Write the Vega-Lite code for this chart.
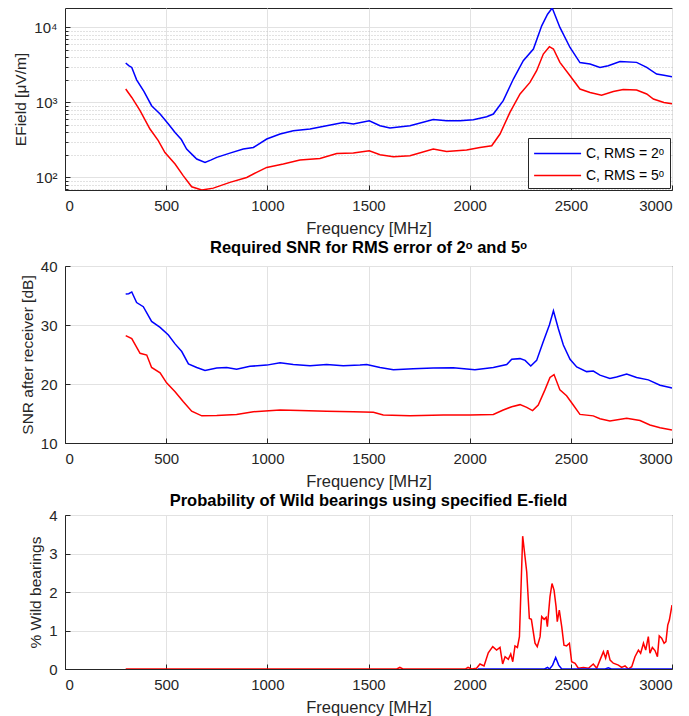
{
  "$schema": "https://vega.github.io/schema/vega-lite/v6.json",
  "padding": {"left": 13, "top": 7, "right": 15, "bottom": 0},
  "spacing": 2,
  "resolve": {"scale": {"color": "independent"}, "legend": {"color": "independent"}},
  "config": {
    "font": "Liberation Sans",
    "view": {"stroke": "#262626", "strokeWidth": 1},
    "axis": {
      "domainColor": "#262626", "tickColor": "#262626", "labelColor": "#262626", "titleColor": "#262626",
      "labelFontSize": 15, "titleFontSize": 16.5, "titleFontWeight": "normal",
      "gridColor": "#e2e2e2", "gridOpacity": 1, "tickSize": -5, "labelPadding": 13, "titlePadding": 7
    },
    "axisY": {"titleFontSize": 15.5, "labelPadding": 13, "titlePadding": 5},
    "title": {"fontSize": 16.5, "fontWeight": "bold", "color": "#000000", "offset": 6},
    "legend": {"labelFontSize": 14, "labelColor": "#000000"}
  },
  "vconcat": [
    {
      "width": 607, "height": 182,
      "data": {"values": [
        {"f":300,"v":3350,"s":"C, RMS = 2ᵒ"},{"f":315,"v":3100,"s":"C, RMS = 2ᵒ"},{"f":330,"v":2930,"s":"C, RMS = 2ᵒ"},{"f":354,"v":2000,"s":"C, RMS = 2ᵒ"},{"f":390,"v":1400,"s":"C, RMS = 2ᵒ"},{"f":428,"v":905,"s":"C, RMS = 2ᵒ"},{"f":470,"v":700,"s":"C, RMS = 2ᵒ"},{"f":511,"v":515,"s":"C, RMS = 2ᵒ"},{"f":544,"v":398,"s":"C, RMS = 2ᵒ"},{"f":575,"v":320,"s":"C, RMS = 2ᵒ"},{"f":601,"v":239,"s":"C, RMS = 2ᵒ"},{"f":630,"v":200,"s":"C, RMS = 2ᵒ"},{"f":651,"v":176,"s":"C, RMS = 2ᵒ"},{"f":692,"v":158,"s":"C, RMS = 2ᵒ"},{"f":720,"v":170,"s":"C, RMS = 2ᵒ"},{"f":750,"v":185,"s":"C, RMS = 2ᵒ"},{"f":815,"v":211,"s":"C, RMS = 2ᵒ"},{"f":881,"v":239,"s":"C, RMS = 2ᵒ"},{"f":931,"v":251,"s":"C, RMS = 2ᵒ"},{"f":997,"v":325,"s":"C, RMS = 2ᵒ"},{"f":1063,"v":379,"s":"C, RMS = 2ᵒ"},{"f":1128,"v":420,"s":"C, RMS = 2ᵒ"},{"f":1211,"v":442,"s":"C, RMS = 2ᵒ"},{"f":1293,"v":490,"s":"C, RMS = 2ᵒ"},{"f":1375,"v":541,"s":"C, RMS = 2ᵒ"},{"f":1425,"v":515,"s":"C, RMS = 2ᵒ"},{"f":1504,"v":570,"s":"C, RMS = 2ᵒ"},{"f":1557,"v":490,"s":"C, RMS = 2ᵒ"},{"f":1606,"v":456,"s":"C, RMS = 2ᵒ"},{"f":1705,"v":490,"s":"C, RMS = 2ᵒ"},{"f":1820,"v":593,"s":"C, RMS = 2ᵒ"},{"f":1886,"v":570,"s":"C, RMS = 2ᵒ"},{"f":1952,"v":570,"s":"C, RMS = 2ᵒ"},{"f":2018,"v":589,"s":"C, RMS = 2ᵒ"},{"f":2084,"v":646,"s":"C, RMS = 2ᵒ"},{"f":2117,"v":700,"s":"C, RMS = 2ᵒ"},{"f":2166,"v":1055,"s":"C, RMS = 2ᵒ"},{"f":2216,"v":2050,"s":"C, RMS = 2ᵒ"},{"f":2265,"v":3600,"s":"C, RMS = 2ᵒ"},{"f":2315,"v":5150,"s":"C, RMS = 2ᵒ"},{"f":2356,"v":10500,"s":"C, RMS = 2ᵒ"},{"f":2385,"v":15000,"s":"C, RMS = 2ᵒ"},{"f":2408,"v":18150,"s":"C, RMS = 2ᵒ"},{"f":2446,"v":10000,"s":"C, RMS = 2ᵒ"},{"f":2496,"v":5400,"s":"C, RMS = 2ᵒ"},{"f":2545,"v":3400,"s":"C, RMS = 2ᵒ"},{"f":2595,"v":3250,"s":"C, RMS = 2ᵒ"},{"f":2644,"v":2930,"s":"C, RMS = 2ᵒ"},{"f":2685,"v":3080,"s":"C, RMS = 2ᵒ"},{"f":2743,"v":3520,"s":"C, RMS = 2ᵒ"},{"f":2825,"v":3420,"s":"C, RMS = 2ᵒ"},{"f":2875,"v":2930,"s":"C, RMS = 2ᵒ"},{"f":2924,"v":2390,"s":"C, RMS = 2ᵒ"},{"f":2960,"v":2300,"s":"C, RMS = 2ᵒ"},{"f":3000,"v":2200,"s":"C, RMS = 2ᵒ"},
        {"f":300,"v":1510,"s":"C, RMS = 5ᵒ"},{"f":330,"v":1165,"s":"C, RMS = 5ᵒ"},{"f":371,"v":776,"s":"C, RMS = 5ᵒ"},{"f":420,"v":442,"s":"C, RMS = 5ᵒ"},{"f":461,"v":309,"s":"C, RMS = 5ᵒ"},{"f":494,"v":215,"s":"C, RMS = 5ᵒ"},{"f":544,"v":151,"s":"C, RMS = 5ᵒ"},{"f":585,"v":105,"s":"C, RMS = 5ᵒ"},{"f":626,"v":75,"s":"C, RMS = 5ᵒ"},{"f":676,"v":68,"s":"C, RMS = 5ᵒ"},{"f":733,"v":72,"s":"C, RMS = 5ᵒ"},{"f":815,"v":86,"s":"C, RMS = 5ᵒ"},{"f":898,"v":100,"s":"C, RMS = 5ᵒ"},{"f":947,"v":117,"s":"C, RMS = 5ᵒ"},{"f":997,"v":136,"s":"C, RMS = 5ᵒ"},{"f":1079,"v":151,"s":"C, RMS = 5ᵒ"},{"f":1161,"v":171,"s":"C, RMS = 5ᵒ"},{"f":1260,"v":179,"s":"C, RMS = 5ᵒ"},{"f":1343,"v":209,"s":"C, RMS = 5ᵒ"},{"f":1425,"v":211,"s":"C, RMS = 5ᵒ"},{"f":1504,"v":227,"s":"C, RMS = 5ᵒ"},{"f":1557,"v":201,"s":"C, RMS = 5ᵒ"},{"f":1623,"v":189,"s":"C, RMS = 5ᵒ"},{"f":1705,"v":195,"s":"C, RMS = 5ᵒ"},{"f":1820,"v":239,"s":"C, RMS = 5ᵒ"},{"f":1886,"v":222,"s":"C, RMS = 5ᵒ"},{"f":1985,"v":232,"s":"C, RMS = 5ᵒ"},{"f":2051,"v":251,"s":"C, RMS = 5ᵒ"},{"f":2109,"v":265,"s":"C, RMS = 5ᵒ"},{"f":2150,"v":379,"s":"C, RMS = 5ᵒ"},{"f":2199,"v":736,"s":"C, RMS = 5ᵒ"},{"f":2249,"v":1295,"s":"C, RMS = 5ᵒ"},{"f":2298,"v":1850,"s":"C, RMS = 5ᵒ"},{"f":2331,"v":2650,"s":"C, RMS = 5ᵒ"},{"f":2364,"v":4420,"s":"C, RMS = 5ᵒ"},{"f":2394,"v":5530,"s":"C, RMS = 5ᵒ"},{"f":2414,"v":5150,"s":"C, RMS = 5ᵒ"},{"f":2446,"v":3420,"s":"C, RMS = 5ᵒ"},{"f":2496,"v":2270,"s":"C, RMS = 5ᵒ"},{"f":2545,"v":1510,"s":"C, RMS = 5ᵒ"},{"f":2595,"v":1360,"s":"C, RMS = 5ᵒ"},{"f":2652,"v":1250,"s":"C, RMS = 5ᵒ"},{"f":2710,"v":1400,"s":"C, RMS = 5ᵒ"},{"f":2759,"v":1490,"s":"C, RMS = 5ᵒ"},{"f":2825,"v":1460,"s":"C, RMS = 5ᵒ"},{"f":2875,"v":1295,"s":"C, RMS = 5ᵒ"},{"f":2908,"v":1110,"s":"C, RMS = 5ᵒ"},{"f":2960,"v":1000,"s":"C, RMS = 5ᵒ"},{"f":3000,"v":960,"s":"C, RMS = 5ᵒ"}
      ]},
      "mark": {"type": "line", "strokeWidth": 1.5, "clip": true},
      "encoding": {
        "x": {"field": "f", "type": "quantitative", "scale": {"domain": [0, 3000], "nice": false},
              "axis": {"values": [0, 500, 1000, 1500, 2000, 2500, 3000], "format": "d", "title": "Frequency [MHz]"}},
        "y": {"field": "v", "type": "quantitative", "scale": {"type": "log", "domain": [68, 18150], "nice": false},
              "axis": {"title": "EField [μV/m]",
                       "values": [70, 80, 90, 100, 200, 300, 400, 500, 600, 700, 800, 900, 1000, 2000, 3000, 4000, 5000, 6000, 7000, 8000, 9000, 10000],
                       "labelExpr": "datum.value == 100 ? '10²' : datum.value == 1000 ? '10³' : datum.value == 10000 ? '10⁴' : ''",
                       "gridDash": {"condition": {"test": "datum.value == 100 || datum.value == 1000 || datum.value == 10000", "value": []}, "value": [1, 2]},
                       "gridColor": {"condition": {"test": "datum.value == 100 || datum.value == 1000 || datum.value == 10000", "value": "#e2e2e2"}, "value": "#c4c4c4"},
                       "tickSize": {"condition": {"test": "datum.value == 100 || datum.value == 1000 || datum.value == 10000", "value": -5}, "value": -3}}},
        "color": {"field": "s", "type": "nominal", "scale": {"domain": ["C, RMS = 2ᵒ", "C, RMS = 5ᵒ"], "range": ["#0000ff", "#ff0000"]},
                  "legend": {"orient": "bottom-right", "title": null, "offset": 2, "padding": 5, "strokeColor": "#262626", "fillColor": "#ffffff",
                             "symbolType": "M-1,0H4", "symbolStrokeWidth": 1.5, "symbolSize": 353, "labelOffset": 32, "rowPadding": 4}}
      }
    },
    {
      "width": 607, "height": 177,
      "title": {"text": "Required SNR for RMS error of 2ᵒ and 5ᵒ", "offset": 3},
      "data": {"values": [
        {"f":300,"v":35.25,"s":"b"},{"f":315,"v":35.3,"s":"b"},{"f":330,"v":35.6,"s":"b"},{"f":354,"v":33.8,"s":"b"},{"f":387,"v":33.1,"s":"b"},{"f":428,"v":30.6,"s":"b"},{"f":470,"v":29.6,"s":"b"},{"f":511,"v":28.3,"s":"b"},{"f":544,"v":26.8,"s":"b"},{"f":577,"v":25.5,"s":"b"},{"f":610,"v":23.4,"s":"b"},{"f":651,"v":22.8,"s":"b"},{"f":692,"v":22.3,"s":"b"},{"f":750,"v":22.7,"s":"b"},{"f":799,"v":22.8,"s":"b"},{"f":848,"v":22.5,"s":"b"},{"f":914,"v":23.0,"s":"b"},{"f":997,"v":23.2,"s":"b"},{"f":1063,"v":23.6,"s":"b"},{"f":1128,"v":23.3,"s":"b"},{"f":1211,"v":23.1,"s":"b"},{"f":1293,"v":23.3,"s":"b"},{"f":1375,"v":23.1,"s":"b"},{"f":1458,"v":23.2,"s":"b"},{"f":1491,"v":23.3,"s":"b"},{"f":1557,"v":22.8,"s":"b"},{"f":1623,"v":22.4,"s":"b"},{"f":1721,"v":22.6,"s":"b"},{"f":1820,"v":22.7,"s":"b"},{"f":1919,"v":22.75,"s":"b"},{"f":2026,"v":22.4,"s":"b"},{"f":2117,"v":22.8,"s":"b"},{"f":2183,"v":23.3,"s":"b"},{"f":2208,"v":24.2,"s":"b"},{"f":2249,"v":24.3,"s":"b"},{"f":2274,"v":24.0,"s":"b"},{"f":2302,"v":23.05,"s":"b"},{"f":2331,"v":24.0,"s":"b"},{"f":2364,"v":27.2,"s":"b"},{"f":2394,"v":30.0,"s":"b"},{"f":2414,"v":32.4,"s":"b"},{"f":2438,"v":29.4,"s":"b"},{"f":2463,"v":26.6,"s":"b"},{"f":2496,"v":24.2,"s":"b"},{"f":2529,"v":22.9,"s":"b"},{"f":2578,"v":22.1,"s":"b"},{"f":2611,"v":22.2,"s":"b"},{"f":2644,"v":21.5,"s":"b"},{"f":2693,"v":20.95,"s":"b"},{"f":2726,"v":21.2,"s":"b"},{"f":2776,"v":21.7,"s":"b"},{"f":2825,"v":21.1,"s":"b"},{"f":2883,"v":20.7,"s":"b"},{"f":2941,"v":19.8,"s":"b"},{"f":2990,"v":19.4,"s":"b"},{"f":3000,"v":19.3,"s":"b"},
        {"f":300,"v":28.2,"s":"r"},{"f":330,"v":27.7,"s":"r"},{"f":371,"v":25.2,"s":"r"},{"f":404,"v":24.9,"s":"r"},{"f":428,"v":22.8,"s":"r"},{"f":470,"v":21.9,"s":"r"},{"f":502,"v":20.2,"s":"r"},{"f":544,"v":18.7,"s":"r"},{"f":585,"v":17.0,"s":"r"},{"f":626,"v":15.4,"s":"r"},{"f":676,"v":14.6,"s":"r"},{"f":750,"v":14.65,"s":"r"},{"f":848,"v":14.85,"s":"r"},{"f":931,"v":15.3,"s":"r"},{"f":1063,"v":15.6,"s":"r"},{"f":1161,"v":15.5,"s":"r"},{"f":1293,"v":15.4,"s":"r"},{"f":1425,"v":15.3,"s":"r"},{"f":1524,"v":15.2,"s":"r"},{"f":1573,"v":14.75,"s":"r"},{"f":1705,"v":14.6,"s":"r"},{"f":1870,"v":14.75,"s":"r"},{"f":2002,"v":14.75,"s":"r"},{"f":2117,"v":14.85,"s":"r"},{"f":2166,"v":15.6,"s":"r"},{"f":2208,"v":16.15,"s":"r"},{"f":2249,"v":16.5,"s":"r"},{"f":2282,"v":16.05,"s":"r"},{"f":2311,"v":15.5,"s":"r"},{"f":2339,"v":16.45,"s":"r"},{"f":2372,"v":19.0,"s":"r"},{"f":2397,"v":21.1,"s":"r"},{"f":2417,"v":21.6,"s":"r"},{"f":2446,"v":19.0,"s":"r"},{"f":2479,"v":18.0,"s":"r"},{"f":2512,"v":16.45,"s":"r"},{"f":2545,"v":14.85,"s":"r"},{"f":2611,"v":14.6,"s":"r"},{"f":2644,"v":14.1,"s":"r"},{"f":2693,"v":13.75,"s":"r"},{"f":2776,"v":14.2,"s":"r"},{"f":2842,"v":13.8,"s":"r"},{"f":2891,"v":13.05,"s":"r"},{"f":2941,"v":12.6,"s":"r"},{"f":3000,"v":12.2,"s":"r"}
      ]},
      "mark": {"type": "line", "strokeWidth": 1.5, "clip": true},
      "encoding": {
        "x": {"field": "f", "type": "quantitative", "scale": {"domain": [0, 3000], "nice": false},
              "axis": {"values": [0, 500, 1000, 1500, 2000, 2500, 3000], "format": "d", "title": "Frequency [MHz]"}},
        "y": {"field": "v", "type": "quantitative", "scale": {"domain": [10, 40], "nice": false, "zero": false},
              "axis": {"values": [10, 20, 30, 40], "title": "SNR after receiver [dB]"}},
        "color": {"field": "s", "type": "nominal", "scale": {"domain": ["b", "r"], "range": ["#0000ff", "#ff0000"]}, "legend": null}
      }
    },
    {
      "width": 607, "height": 154,
      "title": {"text": "Probability of Wild bearings using specified E-field", "offset": -1},
      "data": {"values": [
        {"f":300,"v":0,"s":"r"},{"f":1640,"v":0,"s":"r"},{"f":1655,"v":0.04,"s":"r"},{"f":1670,"v":0,"s":"r"},{"f":1980,"v":0,"s":"r"},{"f":1992,"v":0.04,"s":"r"},{"f":2010,"v":0,"s":"r"},{"f":2034,"v":0.02,"s":"r"},{"f":2051,"v":0.13,"s":"r"},{"f":2071,"v":0.08,"s":"r"},{"f":2092,"v":0.42,"s":"r"},{"f":2114,"v":0.58,"s":"r"},{"f":2133,"v":0.49,"s":"r"},{"f":2150,"v":0.56,"s":"r"},{"f":2163,"v":0.13,"s":"r"},{"f":2175,"v":0.32,"s":"r"},{"f":2191,"v":0.25,"s":"r"},{"f":2203,"v":0.39,"s":"r"},{"f":2213,"v":0.19,"s":"r"},{"f":2224,"v":0.6,"s":"r"},{"f":2236,"v":0.56,"s":"r"},{"f":2246,"v":0.84,"s":"r"},{"f":2262,"v":3.45,"s":"r"},{"f":2282,"v":2.52,"s":"r"},{"f":2295,"v":1.31,"s":"r"},{"f":2305,"v":1.29,"s":"r"},{"f":2323,"v":0.67,"s":"r"},{"f":2334,"v":0.58,"s":"r"},{"f":2348,"v":0.84,"s":"r"},{"f":2356,"v":1.36,"s":"r"},{"f":2368,"v":1.29,"s":"r"},{"f":2378,"v":1.34,"s":"r"},{"f":2384,"v":1.1,"s":"r"},{"f":2397,"v":1.88,"s":"r"},{"f":2407,"v":2.22,"s":"r"},{"f":2417,"v":2.05,"s":"r"},{"f":2427,"v":1.62,"s":"r"},{"f":2433,"v":1.23,"s":"r"},{"f":2443,"v":1.53,"s":"r"},{"f":2455,"v":1.1,"s":"r"},{"f":2466,"v":0.62,"s":"r"},{"f":2479,"v":0.6,"s":"r"},{"f":2493,"v":0.67,"s":"r"},{"f":2504,"v":0.19,"s":"r"},{"f":2521,"v":0.15,"s":"r"},{"f":2537,"v":0.02,"s":"r"},{"f":2562,"v":0.04,"s":"r"},{"f":2587,"v":0.02,"s":"r"},{"f":2611,"v":0.13,"s":"r"},{"f":2628,"v":0.02,"s":"r"},{"f":2644,"v":0.23,"s":"r"},{"f":2661,"v":0.45,"s":"r"},{"f":2672,"v":0.28,"s":"r"},{"f":2682,"v":0.49,"s":"r"},{"f":2694,"v":0.23,"s":"r"},{"f":2710,"v":0.15,"s":"r"},{"f":2735,"v":0.1,"s":"r"},{"f":2751,"v":0.04,"s":"r"},{"f":2768,"v":0.08,"s":"r"},{"f":2784,"v":0,"s":"r"},{"f":2801,"v":0.06,"s":"r"},{"f":2817,"v":0.32,"s":"r"},{"f":2834,"v":0.49,"s":"r"},{"f":2845,"v":0.41,"s":"r"},{"f":2859,"v":0.67,"s":"r"},{"f":2870,"v":0.49,"s":"r"},{"f":2883,"v":0.84,"s":"r"},{"f":2891,"v":0.41,"s":"r"},{"f":2903,"v":0.56,"s":"r"},{"f":2916,"v":0.48,"s":"r"},{"f":2928,"v":0.32,"s":"r"},{"f":2937,"v":0.86,"s":"r"},{"f":2949,"v":0.8,"s":"r"},{"f":2961,"v":0.67,"s":"r"},{"f":2970,"v":0.71,"s":"r"},{"f":2979,"v":1.14,"s":"r"},{"f":2987,"v":1.27,"s":"r"},{"f":3000,"v":1.66,"s":"r"},
        {"f":2040,"v":0,"s":"z"},{"f":2370,"v":0,"s":"z"},{"f":2385,"v":0.04,"s":"z"},{"f":2395,"v":0,"s":"z"},{"f":2410,"v":0.1,"s":"z"},{"f":2425,"v":0.3,"s":"z"},{"f":2440,"v":0.1,"s":"z"},{"f":2455,"v":0,"s":"z"},{"f":2670,"v":0,"s":"z"},{"f":2685,"v":0.03,"s":"z"},{"f":2700,"v":0,"s":"z"},{"f":3000,"v":0,"s":"z"}
      ]},
      "mark": {"type": "line", "strokeWidth": 1.5, "clip": true},
      "encoding": {
        "x": {"field": "f", "type": "quantitative", "scale": {"domain": [0, 3000], "nice": false},
              "axis": {"values": [0, 500, 1000, 1500, 2000, 2500, 3000], "format": "d", "title": "Frequency [MHz]"}},
        "y": {"field": "v", "type": "quantitative", "scale": {"domain": [0, 4], "nice": false},
              "axis": {"values": [0, 1, 2, 3, 4], "title": "% Wild bearings"}},
        "color": {"field": "s", "type": "nominal", "scale": {"domain": ["r", "z"], "range": ["#ff0000", "#0000ff"]}, "legend": null}
      }
    }
  ]
}
